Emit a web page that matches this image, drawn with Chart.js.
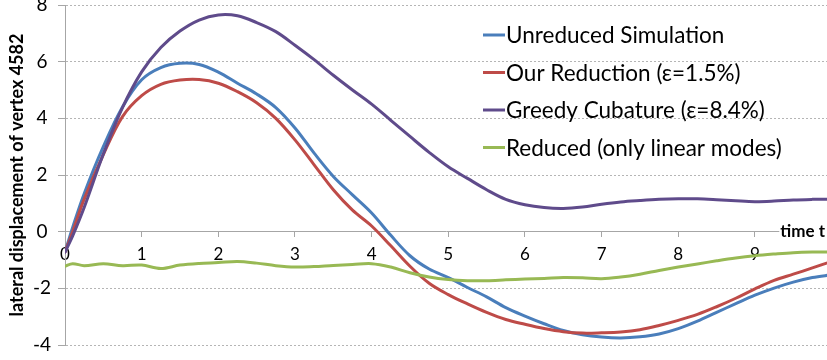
<!DOCTYPE html>
<html>
<head>
<meta charset="utf-8">
<script src="https://cdn.jsdelivr.net/npm/chart.js@4.4.1/dist/chart.umd.min.js"></script>
<style>
  html, body { margin: 0; padding: 0; background: #fff; overflow: hidden; }
  #wrap { position: relative; width: 827px; height: 360px; }
</style>
</head>
<body>
<div id="wrap"><canvas id="c" width="827" height="360"></canvas></div>
<script>
// Sample times (s)
const timeT = [0, 0.1, 0.25, 0.5, 0.75, 1, 1.25, 1.5, 1.75, 2, 2.25, 2.5, 2.75, 3, 3.25, 3.5, 3.75,
  4, 4.25, 4.5, 4.75, 5, 5.25, 5.5, 5.75, 6, 6.25, 6.5, 6.75, 7, 7.25, 7.5, 7.75, 8, 8.25, 8.5,
  8.75, 9, 9.25, 9.5, 9.75, 10];

// Lateral displacement of vertex 4582 per method
const unreduced = [-0.72, 0.15, 1.34, 3.0, 4.4, 5.36, 5.79, 5.94, 5.9, 5.63, 5.24, 4.86, 4.38, 3.66,
  2.77, 1.95, 1.3, 0.66, -0.13, -0.85, -1.32, -1.62, -1.97, -2.3, -2.68, -2.98, -3.25, -3.49,
  -3.64, -3.72, -3.75, -3.71, -3.61, -3.42, -3.16, -2.85, -2.54, -2.24, -1.99, -1.78, -1.62, -1.52];
const ourReduction = [-0.72, 0.0, 1.15, 2.72, 4.06, 4.8, 5.2, 5.35, 5.37, 5.24, 4.94, 4.55, 4.0, 3.24,
  2.36, 1.48, 0.76, 0.2, -0.5, -1.22, -1.82, -2.22, -2.55, -2.85, -3.1, -3.27, -3.42, -3.53,
  -3.58, -3.57, -3.54, -3.46, -3.31, -3.13, -2.92, -2.65, -2.35, -2.02, -1.72, -1.5, -1.28, -1.05];
const greedyCubature = [-0.72, -0.15, 0.85, 2.74, 4.38, 5.64, 6.5, 7.08, 7.47, 7.65, 7.62, 7.38, 7.06,
  6.58, 6.07, 5.52, 5.0, 4.5, 3.93, 3.36, 2.8, 2.29, 1.88, 1.48, 1.14, 0.95, 0.85, 0.82, 0.87,
  0.97, 1.05, 1.1, 1.14, 1.16, 1.16, 1.13, 1.09, 1.06, 1.08, 1.12, 1.14, 1.15];
const reducedLinear = [-1.22, -1.13, -1.2, -1.13, -1.2, -1.18, -1.3, -1.18, -1.12, -1.09, -1.05, -1.11,
  -1.2, -1.25, -1.23, -1.19, -1.16, -1.13, -1.25, -1.45, -1.6, -1.69, -1.73, -1.73, -1.7, -1.67,
  -1.65, -1.62, -1.63, -1.66, -1.6, -1.5, -1.37, -1.25, -1.14, -1.03, -0.93, -0.85, -0.79, -0.74,
  -0.72, -0.72];

const seriesLabels = ['Unreduced Simulation', 'Our Reduction (\u03b5=1.5%)',
  'Greedy Cubature (\u03b5=8.4%)', 'Reduced (only linear modes)'];
const seriesColors = ['#4a7ebb', '#be4b48', '#5f4b8b', '#98b954'];
const seriesValues = [unreduced, ourReduction, greedyCubature, reducedLinear];

const yTickValues = [-4, -2, 0, 2, 4, 6, 8];
const xTickValues = [0, 1, 2, 3, 4, 5, 6, 7, 8, 9];
const xAxisTitle = 'time t';
const yAxisTitle = 'lateral displacement of vertex 4582';

const FONT = 'Lato, "Open Sans", sans-serif';

// Legend in the upper right of the plot area
const sideLegend = {
  id: 'sideLegend',
  afterDraw(chart) {
    const ctx = chart.ctx;
    ctx.save();
    ctx.font = '22.5px ' + FONT;
    ctx.textBaseline = 'middle';
    ctx.textAlign = 'left';
    chart.data.datasets.forEach((ds, i) => {
      const y = 35 + i * 37.5;
      ctx.strokeStyle = ds.borderColor;
      ctx.lineWidth = 3;
      ctx.beginPath();
      ctx.moveTo(483, y);
      ctx.lineTo(505, y);
      ctx.stroke();
      ctx.fillStyle = '#000';
      ctx.fillText(ds.label, 506, y + 1);
    });
    ctx.restore();
  }
};

// Title sitting on the right end of the horizontal axis
const axisEndTitle = {
  id: 'axisEndTitle',
  afterDraw(chart) {
    const ctx = chart.ctx;
    const y0 = chart.scales.y.getPixelForValue(0);
    ctx.save();
    ctx.font = 'bold 17px ' + FONT;
    const w = ctx.measureText(xAxisTitle).width;
    const x = chart.chartArea.right - w - 2;
    ctx.fillStyle = '#fff';
    ctx.fillRect(x - 1, y0 - 9, w + 3, 18);
    ctx.fillStyle = '#000';
    ctx.textBaseline = 'middle';
    ctx.fillText(xAxisTitle, x, y0);
    ctx.restore();
  }
};

function build() {
  const datasets = seriesValues.map((vals, i) => ({
    label: seriesLabels[i],
    data: timeT.map((t, k) => ({ x: t, y: vals[k] })),
    borderColor: seriesColors[i],
    backgroundColor: seriesColors[i],
    borderWidth: 3,
    pointRadius: 0,
    tension: 0.35,
    borderCapStyle: 'round',
    borderJoinStyle: 'round',
    fill: false,
    order: seriesValues.length - i
  }));

  new Chart(document.getElementById('c'), {
    type: 'line',
    data: { datasets },
    options: {
      responsive: false,
      animation: false,
      devicePixelRatio: 1,
      layout: { padding: { top: 5, bottom: 15, left: 0, right: 0 } },
      plugins: { legend: { display: false }, tooltip: { enabled: false } },
      scales: {
        x: {
          type: 'linear',
          position: { y: 0 },
          min: 0,
          max: 9.94,
          afterBuildTicks(scale) { scale.ticks = xTickValues.map(v => ({ value: v })); },
          ticks: {
            includeBounds: false,
            padding: 8,
            color: '#000',
            font: { family: FONT, size: 17 },
            maxRotation: 0,
            autoSkip: false
          },
          grid: {
            drawOnChartArea: false,
            drawTicks: true,
            tickLength: 5,
            tickColor: '#a6a6a6'
          },
          border: { display: true, color: '#a6a6a6', width: 1 }
        },
        y: {
          type: 'linear',
          position: 'left',
          min: -4,
          max: 8,
          afterBuildTicks(scale) { scale.ticks = yTickValues.map(v => ({ value: v })); },
          afterFit(scale) {
            scale.width = 65;
            scale.paddingTop = 0;
            scale.paddingBottom = 0;
          },
          ticks: {
            crossAlign: 'center',
            padding: 7,
            color: '#000',
            font: { family: FONT, size: 19 }
          },
          grid: {
            color: ctx => (ctx.tick && ctx.tick.value === 0) ? 'rgba(0,0,0,0)' : '#b5b5b5',
            lineWidth: 1,
            drawTicks: true,
            tickLength: 7,
            tickColor: '#a6a6a6'
          },
          border: { display: true, color: '#a6a6a6', width: 1, dash: [2, 2] },
          title: {
            display: true,
            text: yAxisTitle,
            color: '#000',
            font: { family: FONT, size: 18, weight: 'bold' },
            padding: { top: 6, bottom: 0 }
          }
        }
      }
    },
    plugins: [sideLegend, axisEndTitle]
  });
}

Promise.all([
  document.fonts.load('20px Lato'),
  document.fonts.load('bold 16px Lato')
]).catch(() => {}).then(build);
</script>
</body>
</html>
